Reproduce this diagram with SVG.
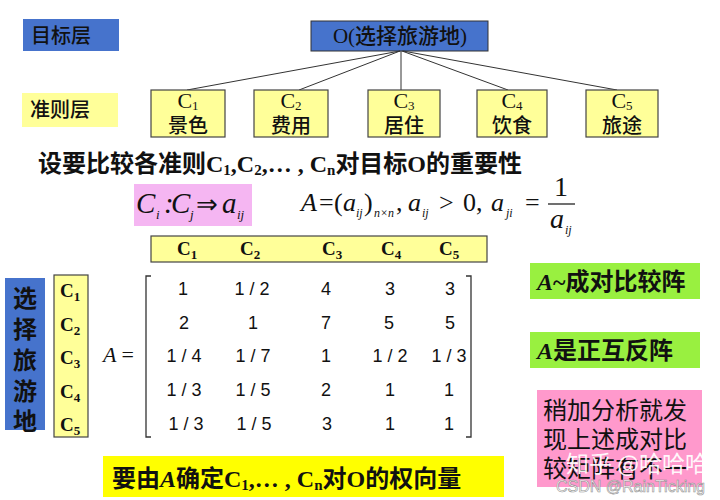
<svg xmlns="http://www.w3.org/2000/svg" width="720" height="500" viewBox="0 0 720 500">
<style>
.cjk{font-family:"Liberation Serif","Noto Sans CJK SC",serif;fill:#111}
.sans{font-family:"Noto Sans CJK SC","Liberation Sans",sans-serif;fill:#111}
.ser{font-family:"Liberation Serif",serif;fill:#111}
.it{font-family:"Liberation Serif",serif;font-style:italic;fill:#111}
.n{font-style:normal}
.blue{fill:#4673CC}
.ybox{fill:#FFFF99;stroke:#444;stroke-width:1.2}
.cl{font-family:"Liberation Serif",serif;font-weight:bold;font-size:19px;fill:#111}
.m{font-family:"Liberation Sans",sans-serif;font-size:18px;fill:#111;text-anchor:middle}
.conn{stroke:#333;stroke-width:1;fill:none}
</style>
<rect width="720" height="500" fill="#fff"/>
<g id="label-goal"><rect class="blue" x="23" y="19" width="96" height="32"/><text class="sans" x="31" y="43" font-size="20" font-weight="500">目标层</text></g>
<g id="node-O"><rect class="blue" x="311" y="21" width="177" height="30" stroke="#333" stroke-width="1"/><text class="cjk" x="400" y="43" font-size="21" font-weight="500" text-anchor="middle">O(选择旅游地)</text></g>
<g id="connectors">
<line class="conn" x1="400" y1="51" x2="187" y2="90"/>
<line class="conn" x1="400" y1="51" x2="299" y2="90"/>
<line class="conn" x1="401" y1="51" x2="401" y2="90"/>
<line class="conn" x1="402" y1="51" x2="508" y2="90"/>
<line class="conn" x1="403" y1="51" x2="617" y2="90"/>
</g>
<g id="label-criteria"><rect x="22" y="93" width="96" height="34" fill="#FFFF99"/><text class="sans" x="30" y="117" font-size="20" font-weight="500">准则层</text></g>
<g id="node-C1"><rect class="ybox" x="151" y="90" width="74" height="47"/><text class="ser" x="188" y="108" font-size="22" font-weight="500" text-anchor="middle">C<tspan font-size="13" dy="2">1</tspan></text><text class="sans" x="188" y="133" font-size="20" font-weight="500" text-anchor="middle">景色</text></g>
<g id="node-C2"><rect class="ybox" x="254" y="90" width="74" height="47"/><text class="ser" x="291" y="108" font-size="22" font-weight="500" text-anchor="middle">C<tspan font-size="13" dy="2">2</tspan></text><text class="sans" x="291" y="133" font-size="20" font-weight="500" text-anchor="middle">费用</text></g>
<g id="node-C3"><rect class="ybox" x="368" y="90" width="72" height="47"/><text class="ser" x="404" y="108" font-size="22" font-weight="500" text-anchor="middle">C<tspan font-size="13" dy="2">3</tspan></text><text class="sans" x="404" y="133" font-size="20" font-weight="500" text-anchor="middle">居住</text></g>
<g id="node-C4"><rect class="ybox" x="477" y="90" width="70" height="47"/><text class="ser" x="512" y="108" font-size="22" font-weight="500" text-anchor="middle">C<tspan font-size="13" dy="2">4</tspan></text><text class="sans" x="512" y="133" font-size="20" font-weight="500" text-anchor="middle">饮食</text></g>
<g id="node-C5"><rect class="ybox" x="586" y="90" width="72" height="47"/><text class="ser" x="622" y="108" font-size="22" font-weight="500" text-anchor="middle">C<tspan font-size="13" dy="2">5</tspan></text><text class="sans" x="622" y="133" font-size="20" font-weight="500" text-anchor="middle">旅途</text></g>

<text class="cjk" x="38" y="172" font-size="24" font-weight="bold">设要比较各准则C<tspan font-size="15" dy="3">1</tspan><tspan dy="-3">,C</tspan><tspan font-size="15" dy="3">2</tspan><tspan dy="-3">,… , C</tspan><tspan font-size="15" dy="3">n</tspan><tspan dy="-3">对目标O的重要性</tspan></text>

<rect x="134" y="184" width="118" height="42" fill="#F5B6F2"/>
<text class="it" y="213" font-size="29"><tspan x="136">C</tspan><tspan x="156" y="219" font-size="13">i</tspan><tspan x="164" y="213">:</tspan><tspan x="171">C</tspan><tspan x="190" y="219" font-size="13">j</tspan><tspan x="196" y="213" class="n" font-size="26">⇒</tspan><tspan x="222">a</tspan><tspan x="237" y="219" font-size="13">ij</tspan></text>

<text class="it" y="211" font-size="26"><tspan x="301">A</tspan><tspan class="n" x="319">=</tspan><tspan class="n" x="334">(</tspan><tspan x="343">a</tspan><tspan x="356" y="217" font-size="12">ij</tspan><tspan class="n" x="364" y="211">)</tspan><tspan x="374" y="217" font-size="12">n×n</tspan><tspan class="n" x="396" y="211">,</tspan><tspan x="408">a</tspan><tspan x="422" y="217" font-size="12">ij</tspan><tspan class="n" x="439" y="211">&gt;</tspan><tspan class="n" x="463">0,</tspan><tspan x="491">a</tspan><tspan x="506" y="217" font-size="12">ji</tspan><tspan class="n" x="525" y="211">=</tspan></text>
<text class="ser" x="561" y="196" font-size="28" text-anchor="middle">1</text>
<line x1="548" y1="204" x2="575" y2="204" stroke="#111" stroke-width="1.2"/>
<text class="it" y="228" font-size="28"><tspan x="550">a</tspan><tspan x="565" y="234" font-size="12">ij</tspan></text>

<g id="header-row"><rect class="ybox" x="151" y="236" width="336" height="26"/>
<text class="cl" x="177" y="255">C<tspan font-size="13" dy="4">1</tspan></text>
<text class="cl" x="240" y="255">C<tspan font-size="13" dy="4">2</tspan></text>
<text class="cl" x="322" y="255">C<tspan font-size="13" dy="4">3</tspan></text>
<text class="cl" x="381" y="255">C<tspan font-size="13" dy="4">4</tspan></text>
<text class="cl" x="439" y="255">C<tspan font-size="13" dy="4">5</tspan></text>
</g>

<g id="label-O-vertical"><rect class="blue" x="5" y="278" width="40" height="152"/>
<text class="sans" font-size="24" font-weight="bold" text-anchor="middle"><tspan x="25" y="307">选</tspan><tspan x="25" y="338">择</tspan><tspan x="25" y="369">旅</tspan><tspan x="25" y="400">游</tspan><tspan x="25" y="430">地</tspan></text></g>

<g id="header-col"><rect class="ybox" x="54" y="275" width="34" height="162"/>
<text class="cl" x="60" y="297">C<tspan font-size="13" dy="4">1</tspan></text>
<text class="cl" x="60" y="331">C<tspan font-size="13" dy="4">2</tspan></text>
<text class="cl" x="60" y="364">C<tspan font-size="13" dy="4">3</tspan></text>
<text class="cl" x="60" y="398">C<tspan font-size="13" dy="4">4</tspan></text>
<text class="cl" x="60" y="431">C<tspan font-size="13" dy="4">5</tspan></text>
</g>

<g id="matrix">
<text class="it" x="103" y="362" font-size="22" fill="#333">A <tspan class="n">=</tspan></text>
<path d="M151 276 H146 V437 H151" fill="none" stroke="#333" stroke-width="1.3"/>
<path d="M466 276 H471 V437 H466" fill="none" stroke="#333" stroke-width="1.3"/>
<text class="m" x="183" y="295">1</text><text class="m" x="252" y="295">1 / 2</text><text class="m" x="326" y="295">4</text><text class="m" x="390" y="295">3</text><text class="m" x="450" y="295">3</text>
<text class="m" x="184" y="329">2</text><text class="m" x="253" y="329">1</text><text class="m" x="326" y="329">7</text><text class="m" x="389" y="329">5</text><text class="m" x="450" y="329">5</text>
<text class="m" x="184" y="362">1 / 4</text><text class="m" x="253" y="362">1 / 7</text><text class="m" x="326" y="362">1</text><text class="m" x="390" y="362">1 / 2</text><text class="m" x="449" y="362">1 / 3</text>
<text class="m" x="184" y="396">1 / 3</text><text class="m" x="253" y="396">1 / 5</text><text class="m" x="326" y="396">2</text><text class="m" x="390" y="396">1</text><text class="m" x="449" y="396">1</text>
<text class="m" x="186" y="430">1 / 3</text><text class="m" x="254" y="430">1 / 5</text><text class="m" x="327" y="430">3</text><text class="m" x="390" y="430">1</text><text class="m" x="449" y="430">1</text>
</g>

<g id="note-bottom"><rect x="103" y="456" width="401" height="41" fill="#FFFF00"/>
<text class="cjk" x="112" y="487" font-size="24" font-weight="bold">要由<tspan font-style="italic">A</tspan>确定C<tspan font-size="15" dy="3">1</tspan><tspan dy="-3">,… , C</tspan><tspan font-size="15" dy="3">n</tspan><tspan dy="-3">对O的权向量</tspan></text></g>

<g id="note-green1"><rect x="530" y="263" width="170" height="36" fill="#99F040"/>
<text class="cjk" x="537" y="290" font-size="24" font-weight="bold"><tspan font-style="italic">A</tspan>~成对比较阵</text></g>
<g id="note-green2"><rect x="530" y="332" width="170" height="36" fill="#99F040"/>
<text class="cjk" x="537" y="359" font-size="24" font-weight="bold"><tspan font-style="italic">A</tspan>是正互反阵</text></g>
<g id="note-pink"><rect x="537" y="390" width="165" height="97" fill="#FF99CC"/>
<text class="sans" font-size="24"><tspan x="543" y="419">稍加分析就发</tspan><tspan x="543" y="448">现上述成对比</tspan><tspan x="543" y="477">较矩阵有不一</tspan></text></g>
<g id="watermark">
<text class="sans" x="566" y="472" font-size="23" style="fill:#fff" opacity="0.92">知乎 @哈哈哈</text>
<text x="556" y="492" font-family="Liberation Sans,sans-serif" font-size="16" fill="#fff" stroke="#888" stroke-width="0.6" opacity="0.9">CSDN @RainTicking</text>
</g>
</svg>
